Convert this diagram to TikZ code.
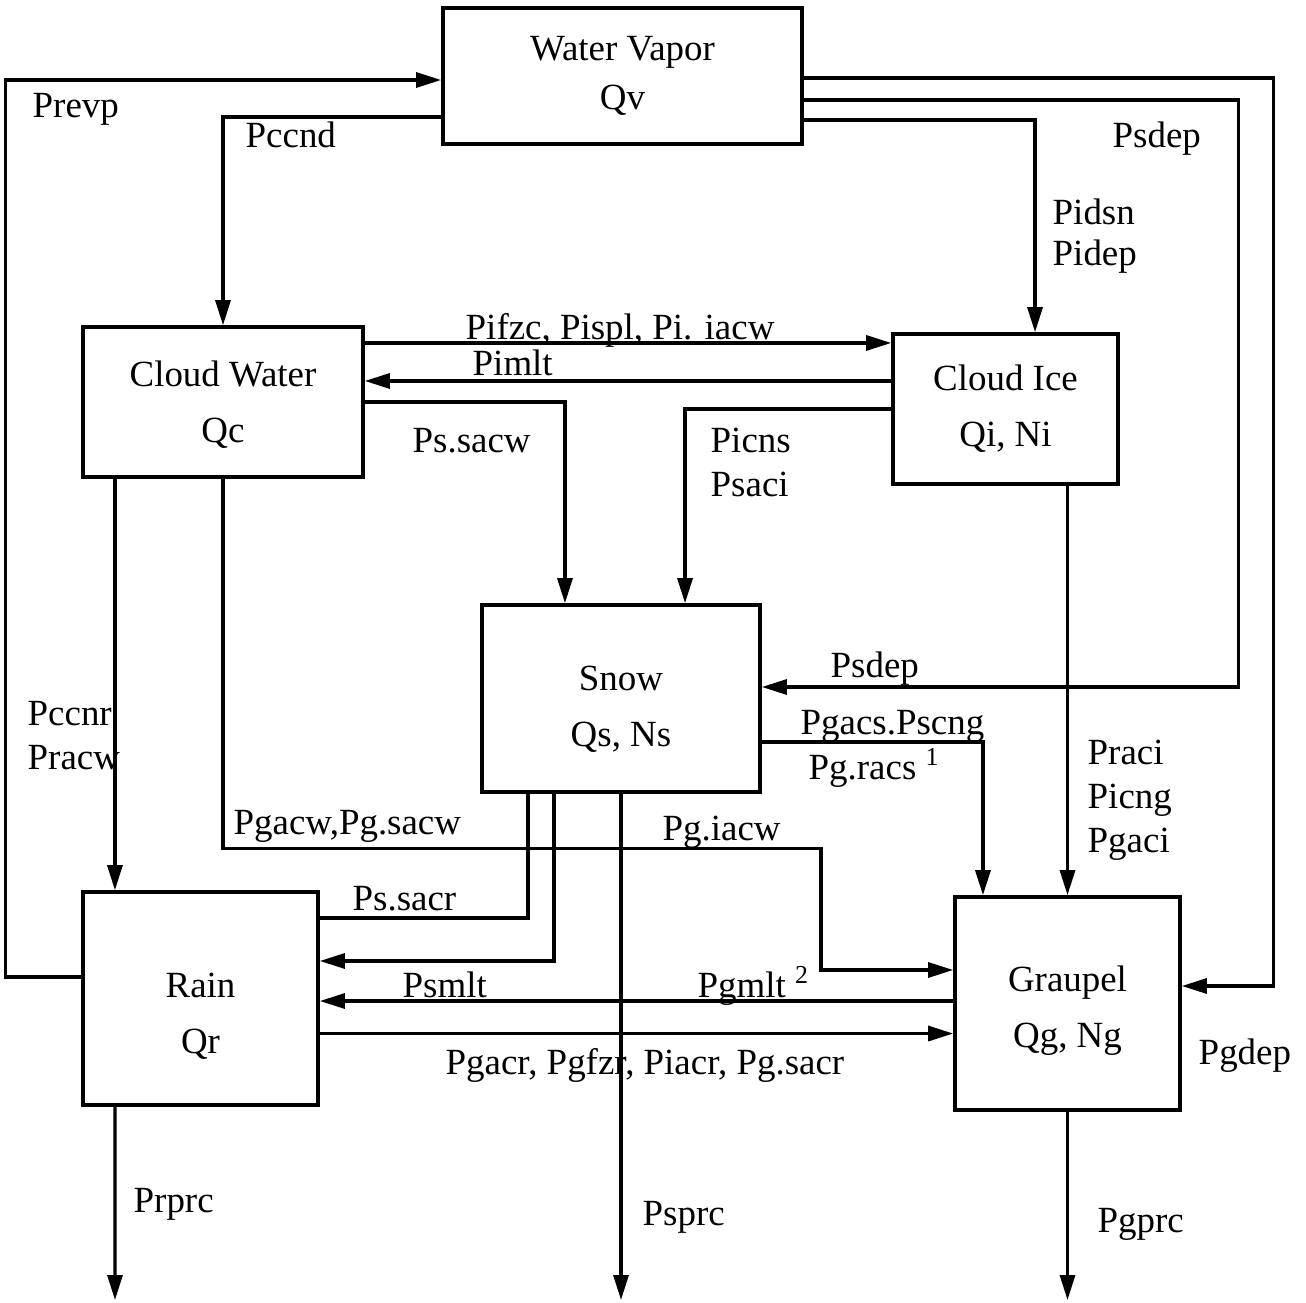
\documentclass[tikz,border=0pt]{standalone}
\usepackage{fontspec}
\setmainfont{Liberation Serif}
\usetikzlibrary{arrows.meta}
\tikzset{
  box/.style ={draw=black, line width=1pt, align=center, inner sep=2pt, font=\fontsize{10.5}{16}\selectfont},
  edge/.style={-{Triangle[length=2.5mm,width=1.5mm]}, line width=0.9pt},
  link/.style={line width=0.9pt},
  lbl/.style ={anchor=base west, inner sep=0pt, align=left, font=\fontsize{10.5}{12.5}\selectfont},
}

\begin{document}
\begin{tikzpicture}[x=0.01cm, y=-0.01cm]
  \useasboundingbox (0,0) rectangle (1306,1303);

  \node[box, minimum width=3.59cm, minimum height=1.36cm, font=\fontsize{10.5}{14}\selectfont] (wv) at (622.5,76) {Water Vapor\\Qv};
  \node[box, minimum width=2.8cm,  minimum height=1.5cm]  (cw)   at (223,402)     {\rule{0pt}{3.1mm}Cloud Water\\Qc};
  \node[box, minimum width=2.25cm, minimum height=1.5cm]  (ci)   at (1005.5,409)  {Cloud Ice\\Qi, Ni};
  \node[box, minimum width=2.78cm, minimum height=1.87cm] (snow) at (621,698.5)   {\rule{0pt}{4.6mm}Snow\\Qs, Ns};
  \node[box, minimum width=2.35cm, minimum height=2.13cm] (rain) at (200.5,998.5) {\rule{0pt}{6mm}Rain\\Qr};
  \node[box, minimum width=2.25cm, minimum height=2.13cm] (gr)   at (1067.5,1003.5) {\rule{0pt}{4mm}Graupel\\Qg, Ng};

  \coordinate (rainout) at (115,1300);
  \coordinate (snowout) at (621,1300);
  \coordinate (grout)   at (1067.5,1300);

  \draw[edge] ([yshift=2.15mm]rain.west) -- ++(-76,0) |- ([yshift=-0.4mm]wv.west);
  \draw[edge] ([yshift=-4.1mm]wv.west) -| (cw.north);
  \draw[edge] ([yshift=-0.2mm]wv.east) -- ++(470,0) |- ([yshift=1.75mm]gr.east);
  \draw[edge] ([yshift=-2.4mm]wv.east) -- ++(435,0) |- ([yshift=1.15mm]snow.east);
  \draw[edge] ([yshift=-4.4mm]wv.east) -| ([xshift=2.95mm]ci.north);
  \draw[edge] ([yshift=5.9mm]cw.east) -- ([yshift=5.9mm]cw.east -| ci.west);
  \draw[edge] ([yshift=2.8mm]ci.west) -- ([yshift=2.8mm]ci.west -| cw.east);
  \draw[edge] (cw.east) -| ([xshift=-5.6mm]snow.north);
  \draw[edge] (ci.west) -| ([xshift=6.4mm]snow.north);
  \draw[edge] ([xshift=-10.8mm]cw.south) -- ([xshift=-10.8mm]cw.south |- rain.north);
  \draw[edge] (cw.south) -- ++(0,370) -- ++(598,0) |- ([yshift=3.35mm]gr.west);
  \draw[edge] (gr.north |- ci.south) -- (gr.north);
  \draw[edge] ([yshift=-4.35mm]snow.east) -| ([xshift=-8.45mm]gr.north);
  \draw[link] ([xshift=-9.3mm]snow.south) |- ([yshift=8.05mm]rain.east);
  \draw[edge] ([xshift=-6.7mm]snow.south) |- ([yshift=3.75mm]rain.east);
  \draw[edge] ([yshift=0.25mm]gr.west) -- ([yshift=0.25mm]gr.west -| rain.east);
  \draw[edge] ([yshift=-3.5mm]rain.east) -- ([yshift=-3.5mm]rain.east -| gr.west);
  \draw[edge] ([xshift=-8.55mm]rain.south) -- (rainout);
  \draw[edge] (snow.south) -- (snowout);
  \draw[edge] (gr.south) -- (grout);

  \node[lbl] (lprevp)  at (32,117)   {Prevp};
  \node[lbl] (lpccnd)  at (245,147)  {Pccnd};
  \node[lbl] (lpsdepa) at (1112,147) {Psdep};
  \node[lbl, font=\fontsize{10.5}{11.5}\selectfont] (lpidsn) at (1052,265) {Pidsn\\Pidep};
  \node[lbl] (lpifzc)  at (465,339)  {Pifzc, Pispl, Pi. iacw};
  \node[lbl] (lpimlt)  at (472,375)  {Pimlt};
  \node[lbl] (lpssacw) at (412,452)  {Ps.sacw};
  \node[lbl] (lpicns)  at (710,496)  {Picns\\Psaci};
  \node[lbl] (lpsdepb) at (830,677)  {Psdep};
  \node[lbl] (lpgacs)  at (800,734)  {Pgacs.Pscng};
  \node[lbl] (lpgracs) at (808,779)  {Pg.racs \textsuperscript{1}};
  \node[lbl] (lpccnr)  at (27,769)   {Pccnr\\Pracw};
  \node[lbl] (lpgacw)  at (233,834)  {Pgacw,Pg.sacw};
  \node[lbl] (lpgiacw) at (662,840)  {Pg.iacw};
  \node[lbl] (lpraci)  at (1087,852) {Praci\\Picng\\Pgaci};
  \node[lbl] (lpssacr) at (352,910)  {Ps.sacr};
  \node[lbl] (lpsmlt)  at (402,997)  {Psmlt};
  \node[lbl] (lpgmlt)  at (697,997)  {Pgmlt \textsuperscript{2}};
  \node[lbl] (lpgacr)  at (445,1074) {Pgacr, Pgfzr, Piacr, Pg.sacr};
  \node[lbl] (lpgdep)  at (1198,1064) {Pgdep};
  \node[lbl] (lprprc)  at (133,1212) {Prprc};
  \node[lbl] (lpsprc)  at (642,1225) {Psprc};
  \node[lbl] (lpgprc)  at (1097,1232) {Pgprc};
\end{tikzpicture}
\end{document}
